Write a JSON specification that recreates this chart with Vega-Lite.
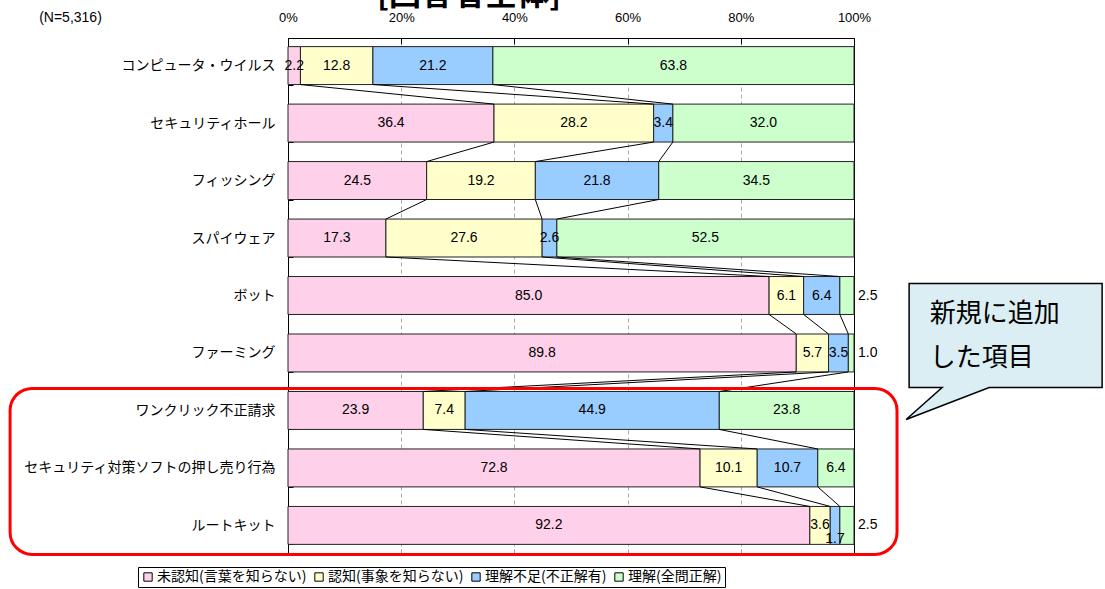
{
  "$schema": "https://vega.github.io/schema/vega-lite/v6.json",
  "width": 566,
  "height": 515,
  "autosize": {"type": "none"},
  "padding": {"left": 288, "top": 38, "right": 251, "bottom": 36},
  "background": "white",
  "config": {"view": {"stroke": "#808080"}},
  "title": {"text": "[回答者全体]", "font": "Noto Sans CJK JP", "fontSize": 32, "fontWeight": "bold", "anchor": "middle", "dx": -102, "dy": 2, "offset": 0, "color": "#000"},
  "datasets": {
    "d": [
      {"item": "コンピュータ・ウイルス", "n": 1, "cat": "未認知(言葉を知らない)", "o": 1, "v": 2.2},
      {"item": "コンピュータ・ウイルス", "n": 1, "cat": "認知(事象を知らない)", "o": 2, "v": 12.8},
      {"item": "コンピュータ・ウイルス", "n": 1, "cat": "理解不足(不正解有)", "o": 3, "v": 21.2},
      {"item": "コンピュータ・ウイルス", "n": 1, "cat": "理解(全問正解)", "o": 4, "v": 63.8},
      {"item": "セキュリティホール", "n": 2, "cat": "未認知(言葉を知らない)", "o": 1, "v": 36.4},
      {"item": "セキュリティホール", "n": 2, "cat": "認知(事象を知らない)", "o": 2, "v": 28.2},
      {"item": "セキュリティホール", "n": 2, "cat": "理解不足(不正解有)", "o": 3, "v": 3.4},
      {"item": "セキュリティホール", "n": 2, "cat": "理解(全問正解)", "o": 4, "v": 32.0},
      {"item": "フィッシング", "n": 3, "cat": "未認知(言葉を知らない)", "o": 1, "v": 24.5},
      {"item": "フィッシング", "n": 3, "cat": "認知(事象を知らない)", "o": 2, "v": 19.2},
      {"item": "フィッシング", "n": 3, "cat": "理解不足(不正解有)", "o": 3, "v": 21.8},
      {"item": "フィッシング", "n": 3, "cat": "理解(全問正解)", "o": 4, "v": 34.5},
      {"item": "スパイウェア", "n": 4, "cat": "未認知(言葉を知らない)", "o": 1, "v": 17.3},
      {"item": "スパイウェア", "n": 4, "cat": "認知(事象を知らない)", "o": 2, "v": 27.6},
      {"item": "スパイウェア", "n": 4, "cat": "理解不足(不正解有)", "o": 3, "v": 2.6},
      {"item": "スパイウェア", "n": 4, "cat": "理解(全問正解)", "o": 4, "v": 52.5},
      {"item": "ボット", "n": 5, "cat": "未認知(言葉を知らない)", "o": 1, "v": 85.0},
      {"item": "ボット", "n": 5, "cat": "認知(事象を知らない)", "o": 2, "v": 6.1},
      {"item": "ボット", "n": 5, "cat": "理解不足(不正解有)", "o": 3, "v": 6.4},
      {"item": "ボット", "n": 5, "cat": "理解(全問正解)", "o": 4, "v": 2.5},
      {"item": "ファーミング", "n": 6, "cat": "未認知(言葉を知らない)", "o": 1, "v": 89.8},
      {"item": "ファーミング", "n": 6, "cat": "認知(事象を知らない)", "o": 2, "v": 5.7},
      {"item": "ファーミング", "n": 6, "cat": "理解不足(不正解有)", "o": 3, "v": 3.5},
      {"item": "ファーミング", "n": 6, "cat": "理解(全問正解)", "o": 4, "v": 1.0},
      {"item": "ワンクリック不正請求", "n": 7, "cat": "未認知(言葉を知らない)", "o": 1, "v": 23.9},
      {"item": "ワンクリック不正請求", "n": 7, "cat": "認知(事象を知らない)", "o": 2, "v": 7.4},
      {"item": "ワンクリック不正請求", "n": 7, "cat": "理解不足(不正解有)", "o": 3, "v": 44.9},
      {"item": "ワンクリック不正請求", "n": 7, "cat": "理解(全問正解)", "o": 4, "v": 23.8},
      {"item": "セキュリティ対策ソフトの押し売り行為", "n": 8, "cat": "未認知(言葉を知らない)", "o": 1, "v": 72.8},
      {"item": "セキュリティ対策ソフトの押し売り行為", "n": 8, "cat": "認知(事象を知らない)", "o": 2, "v": 10.1},
      {"item": "セキュリティ対策ソフトの押し売り行為", "n": 8, "cat": "理解不足(不正解有)", "o": 3, "v": 10.7},
      {"item": "セキュリティ対策ソフトの押し売り行為", "n": 8, "cat": "理解(全問正解)", "o": 4, "v": 6.4},
      {"item": "ルートキット", "n": 9, "cat": "未認知(言葉を知らない)", "o": 1, "v": 92.2},
      {"item": "ルートキット", "n": 9, "cat": "認知(事象を知らない)", "o": 2, "v": 3.6},
      {"item": "ルートキット", "n": 9, "cat": "理解不足(不正解有)", "o": 3, "v": 1.7},
      {"item": "ルートキット", "n": 9, "cat": "理解(全問正解)", "o": 4, "v": 2.5}
    ]
  },
  "data": {"name": "d"},
  "transform": [
    {"stack": "v", "groupby": ["item"], "sort": [{"field": "o", "order": "ascending"}], "as": ["c0", "c1"]},
    {"calculate": "(datum.c0 + datum.c1) / 2", "as": "mid"}
  ],
  "layer": [
    {
      "mark": {"type": "bar", "stroke": "#222", "strokeWidth": 1},
      "encoding": {
        "y": {
          "field": "item", "type": "nominal",
          "scale": {"domain": ["コンピュータ・ウイルス", "セキュリティホール", "フィッシング", "スパイウェア", "ボット", "ファーミング", "ワンクリック不正請求", "セキュリティ対策ソフトの押し売り行為", "ルートキット"], "paddingInner": 0.34, "paddingOuter": 0.15},
          "axis": {
            "title": "(N=5,316)", "titleAngle": 0, "titleX": -218, "titleY": -21, "titleAlign": "center", "titleBaseline": "middle",
            "titleFontSize": 14, "titleFontWeight": "normal", "titleFont": "Liberation Sans", "titleColor": "#000",
            "labelFont": "Noto Sans CJK JP", "labelFontSize": 14, "labelColor": "#000", "labelPadding": 18, "labelLimit": 400,
            "tickBand": "extent", "tickSize": -5, "tickColor": "#000", "domainColor": "#000"
          }
        },
        "x": {
          "field": "c0", "type": "quantitative",
          "scale": {"domain": [0, 100], "nice": false},
          "axis": {
            "orient": "top", "values": [0, 20, 40, 60, 80, 100], "labelExpr": "datum.value + '%'", "title": null,
            "labelFont": "Liberation Sans", "labelFontSize": 13, "labelColor": "#000", "labelFlush": false, "labelPadding": 20,
            "tickSize": -6, "tickColor": "#000", "domainColor": "#000",
            "grid": true,
            "gridColor": {"condition": {"test": "datum.value === 100", "value": "#000"}, "value": "#aaa"},
            "gridDash": {"condition": {"test": "datum.value === 100", "value": []}, "value": [4, 3]}
          }
        },
        "x2": {"field": "c1"},
        "color": {
          "field": "cat", "type": "nominal",
          "scale": {"domain": ["未認知(言葉を知らない)", "認知(事象を知らない)", "理解不足(不正解有)", "理解(全問正解)"], "range": ["#ffd0ea", "#ffffcc", "#99ccff", "#ccffcc"]},
          "legend": {
            "orient": "none", "legendX": -150, "legendY": 529, "direction": "horizontal", "title": null,
            "symbolType": "square", "symbolSize": 70, "symbolStrokeColor": "#000", "symbolStrokeWidth": 1,
            "labelFont": "Noto Sans CJK JP", "labelFontSize": 14, "labelColor": "#000", "labelOffset": 2,
            "strokeColor": "#000", "padding": 3, "columnPadding": 5
          }
        }
      }
    },
    {
      "transform": [
        {"window": [{"op": "lead", "field": "c1", "as": "nc1"}, {"op": "lead", "field": "item", "as": "nitem"}], "groupby": ["cat"], "sort": [{"field": "n", "order": "ascending"}]},
        {"filter": "datum.nitem != null && datum.o < 4"}
      ],
      "mark": {"type": "rule", "color": "#000", "strokeWidth": 1},
      "encoding": {
        "x": {"field": "c1", "type": "quantitative"},
        "x2": {"field": "nc1"},
        "y": {"field": "item", "type": "nominal", "bandPosition": 1},
        "y2": {"field": "nitem", "bandPosition": 0}
      }
    },
    {
      "transform": [{"filter": "!(datum.o == 4 && datum.v < 3) && !(datum.o == 3 && datum.v < 2)"}],
      "mark": {"type": "text", "font": "Liberation Sans", "fontSize": 14, "color": "#000"},
      "encoding": {
        "x": {"field": "mid", "type": "quantitative"},
        "y": {"field": "item", "type": "nominal"},
        "text": {"field": "v", "type": "quantitative", "format": ".1f"}
      }
    },
    {
      "transform": [{"filter": "datum.o == 3 && datum.v < 2"}],
      "mark": {"type": "text", "font": "Liberation Sans", "fontSize": 14, "color": "#000", "dy": 14},
      "encoding": {
        "x": {"field": "mid", "type": "quantitative"},
        "y": {"field": "item", "type": "nominal"},
        "text": {"field": "v", "type": "quantitative", "format": ".1f"}
      }
    },
    {
      "transform": [{"filter": "datum.o == 4 && datum.v < 3"}],
      "mark": {"type": "text", "font": "Liberation Sans", "fontSize": 14, "color": "#000", "align": "left", "dx": 4},
      "encoding": {
        "x": {"field": "c1", "type": "quantitative"},
        "y": {"field": "item", "type": "nominal"},
        "text": {"field": "v", "type": "quantitative", "format": ".1f"}
      }
    },
    {
      "data": {"values": [{}]},
      "mark": {"type": "rect", "filled": false, "stroke": "#ff0000", "strokeWidth": 3, "cornerRadius": 22, "yOffset": -3, "y2Offset": 10, "clip": false},
      "encoding": {
        "x": {"datum": -49.1, "type": "quantitative"},
        "x2": {"datum": 107.6},
        "y": {"datum": "ワンクリック不正請求", "type": "nominal", "bandPosition": 0},
        "y2": {"datum": "ルートキット", "bandPosition": 1}
      }
    },
    {
      "data": {"values": [{}]},
      "mark": {"type": "point", "shape": "M-0.96,-0.695L0.97,-0.695L0.97,0.345L-0.16,0.345L-0.99,0.665L-0.63,0.345L-0.96,0.345Z", "size": 40000, "fill": "#dbeef4", "stroke": "#000", "strokeWidth": 1.5, "opacity": 1, "fillOpacity": 1},
      "encoding": {
        "x": {"datum": 126.7, "type": "quantitative"},
        "y": {"datum": "ファーミング", "type": "nominal"}
      }
    },
    {
      "data": {"values": [{}]},
      "mark": {"type": "text", "text": "新規に追加\nした項目", "lineBreak": "\n", "lineHeight": 44, "font": "Noto Sans CJK JP", "fontSize": 26, "align": "left", "baseline": "middle", "color": "#000"},
      "encoding": {
        "x": {"datum": 113.4, "type": "quantitative"},
        "y": {"datum": "ボット", "type": "nominal", "bandPosition": 1}
      }
    }
  ]
}
